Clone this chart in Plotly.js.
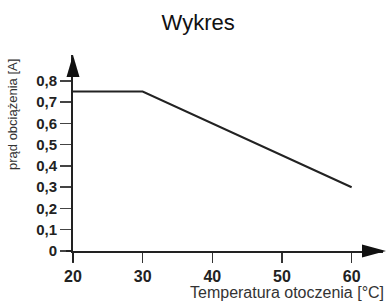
<!DOCTYPE html>
<html><head><meta charset="utf-8">
<script src="https://cdn.plot.ly/plotly-3.0.1.min.js"></script>
<style>html,body{margin:0;padding:0;background:#fff}</style>
</head><body><div id="chart" style="width:387px;height:302px"></div>
<script>
const temperatures = [20, 30, 60];
const currents = [0.75, 0.75, 0.3];
const xTickVals = [20, 30, 40, 50, 60];
const yTickVals = [0, 0.1, 0.2, 0.3, 0.4, 0.5, 0.6, 0.7, 0.8];
const yTickText = ['0', '0,1', '0,2', '0,3', '0,4', '0,5', '0,6', '0,7', '0,8'];

const W = 387, H = 302;
const m = {l: 73, r: 4, t: 55, b: 51};
const pw = W - m.l - m.r, ph = H - m.t - m.b;
const px = x => (x - m.l) / pw;        // pixel -> paper x
const py = y => (H - m.b - y) / ph;    // pixel -> paper y

const fontFam = '"Liberation Sans", Arial, sans-serif';

const trace = {
  x: temperatures, y: currents, type: 'scatter', mode: 'lines',
  line: {color: '#222', width: 2}, hoverinfo: 'skip', cliponaxis: false
};

const layout = {
  width: W, height: H, margin: m,
  paper_bgcolor: '#fff', plot_bgcolor: '#fff',
  showlegend: false,
  font: {family: fontFam, color: '#222'},
  title: {text: 'Wykres', font: {size: 22, color: '#111', family: fontFam}, x: 0.512, xanchor: 'center', y: 0.925, yanchor: 'middle'},
  xaxis: {
    range: [20, 64.5], showgrid: false, zeroline: false,
    showline: true, linecolor: '#222', linewidth: 2,
    tickmode: 'array', tickvals: xTickVals, ticks: 'outside', ticklen: 10, tickwidth: 1.5, tickcolor: '#333',
    tickfont: {size: 16, family: fontFam, weight: 'bold', color: '#222'}
  },
  yaxis: {
    range: [0, 0.922], showgrid: false, zeroline: false,
    showline: true, linecolor: '#222', linewidth: 2,
    tickmode: 'array', tickvals: yTickVals, ticktext: yTickText, ticks: 'outside', ticklen: 11, tickwidth: 1.5, tickcolor: '#444',
    ticklabelstandoff: 0,
    tickfont: {size: 15, family: fontFam, weight: 'bold', color: '#222'}
  },
  shapes: [
    {type: 'path', xref: 'paper', yref: 'paper', fillcolor: '#111', line: {width: 0},
     path: `M ${px(73)} ${py(55)} L ${px(66.5)} ${py(77)} L ${px(79.5)} ${py(77)} Z`},
    {type: 'path', xref: 'paper', yref: 'paper', fillcolor: '#111', line: {width: 0},
     path: `M ${px(386)} ${py(251)} L ${px(362)} ${py(244.5)} L ${px(362)} ${py(257.5)} Z`},
    {type: 'line', xref: 'paper', yref: 'paper', x0: px(73), x1: px(73), y0: py(251), y1: py(262), line: {color: '#222', width: 2}},
    {type: 'line', xref: 'paper', yref: 'paper', x0: px(66), x1: px(73), y0: py(251), y1: py(251), line: {color: '#222', width: 2}}
  ],
  annotations: [
    {text: 'prąd obciążenia [A]', xref: 'paper', yref: 'paper', x: px(12), y: py(115),
     xanchor: 'center', yanchor: 'middle', textangle: -90, showarrow: false,
     font: {size: 13, color: '#333', family: fontFam}},
    {text: 'Temperatura otoczenia [°C]', xref: 'paper', yref: 'paper', x: px(386), y: py(292),
     xanchor: 'right', yanchor: 'middle', showarrow: false,
     font: {size: 16, color: '#333', family: fontFam}}
  ]
};

Plotly.newPlot('chart', [trace], layout, {displayModeBar: false, staticPlot: true});
</script></body></html>
